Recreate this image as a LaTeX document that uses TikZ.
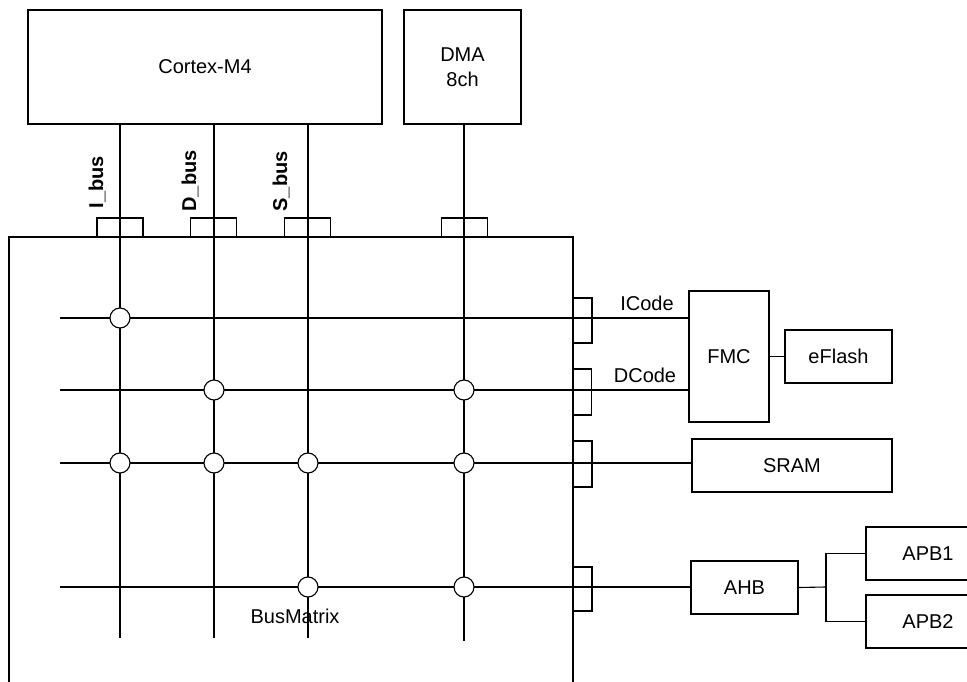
\documentclass[tikz,border=0pt]{standalone}
\usepackage{fontspec}
\setmainfont{Liberation Sans}
\begin{document}
\begin{tikzpicture}[x=1pt,y=-1pt,
  line width=1.1pt,
  box/.style={draw, rectangle, inner sep=0pt, font=\fontsize{20}{25}\selectfont, align=center},
  port/.style={draw, rectangle, inner sep=0pt},
  junc/.style={draw, circle, fill=white, minimum size=20pt, inner sep=0pt},
  buslbl/.style={rotate=90, anchor=base west, inner sep=0pt, font=\bfseries\fontsize{20}{24}\selectfont},
  lbl/.style={inner sep=0pt, font=\fontsize{20}{24}\selectfont}]
\useasboundingbox (0,0) rectangle (967,682);
\clip (0,0) rectangle (967,682);

% upper masters
\node[box, minimum width=354pt, minimum height=114pt] (cortex) at (205,67) {Cortex-M4};
\node[box, minimum width=117pt, minimum height=114pt] (dma) at (462.5,67) {DMA\\8ch};

% bus matrix frame
\node[draw, rectangle, inner sep=0pt, minimum width=564pt, minimum height=473pt] (bm) at (291,473.5) {};

% top ports
\node[port, minimum width=46pt, minimum height=19pt] (pi) at (120,227.5) {};
\node[port, minimum width=46pt, minimum height=19pt] (pd) at (213.5,227.5) {};
\node[port, minimum width=46pt, minimum height=19pt] (ps) at (307.5,227.5) {};
\node[port, minimum width=46pt, minimum height=19pt] (pm) at (464.5,227.5) {};

% right ports
\node[port, minimum width=19pt, minimum height=45pt] (rp1) at (582.5,320.5) {};
\node[port, minimum width=19pt, minimum height=46pt] (rp2) at (582,392) {};
\node[port, minimum width=19pt, minimum height=46pt] (rp3) at (582.5,464) {};
\node[port, minimum width=19pt, minimum height=44pt] (rp4) at (582.5,589) {};

% slaves
\node[box, minimum width=80pt, minimum height=131pt] (fmc) at (729,356.5) {FMC};
\node[box, minimum width=107pt, minimum height=53pt] (eflash) at (838.5,356.5) {eFlash};
\node[box, minimum width=200pt, minimum height=53pt] (sram) at (792,465.5) {SRAM};
\node[box, minimum width=107pt, minimum height=53pt] (ahb) at (744.5,587.5) {AHB};
\node[box, minimum width=124pt, minimum height=53pt] (apb1) at (928,553.5) {APB1};
\node[box, minimum width=124pt, minimum height=53pt] (apb2) at (928,621.5) {APB2};

% bus line end points
\coordinate (ie) at (120,638);
\coordinate (de) at (214,638);
\coordinate (se) at (308,638);
\coordinate (me) at (464,641);
\coordinate (h1) at (60,318);
\coordinate (h2) at (60,390);
\coordinate (h3) at (60,463);
\coordinate (h4) at (60,587);
\coordinate (fork) at (826,587);

% vertical buses
\draw (cortex.south -| ie) -- (ie);
\draw (cortex.south -| de) -- (de);
\draw (cortex.south -| se) -- (se);
\draw (dma.south -| me) -- (me);

% horizontal buses
\draw (h1) -- (h1 -| fmc.west);
\draw (h2) -- (h2 -| fmc.west);
\draw (h3) -- (h3 -| sram.west);
\draw (h4) -- (h4 -| ahb.west);

% FMC - eFlash, AHB - APB fork
\draw (fmc.east) -- (eflash.west);
\draw (ahb.east) -- (fork);
\draw (apb1.west) -| (fork) |- (apb2.west);

% junctions
\node[junc] (j11) at (ie |- h1) {};
\node[junc] (j22) at (de |- h2) {};
\node[junc] (j24) at (me |- h2) {};
\node[junc] (j31) at (ie |- h3) {};
\node[junc] (j32) at (de |- h3) {};
\node[junc] (j33) at (se |- h3) {};
\node[junc] (j34) at (me |- h3) {};
\node[junc] (j43) at (se |- h4) {};
\node[junc] (j44) at (me |- h4) {};

% labels
\node[buslbl] (li) at (103,209) {I\_bus};
\node[buslbl] (ld) at (196,212) {D\_bus};
\node[buslbl] (ls) at (287,212) {S\_bus};
\node[lbl, anchor=base] (licode) at (647,310) {ICode};
\node[lbl, anchor=base] (ldcode) at (645,382) {DCode};
\node[lbl, anchor=base] (lbm) at (295,623) {BusMatrix};
\end{tikzpicture}
\end{document}
